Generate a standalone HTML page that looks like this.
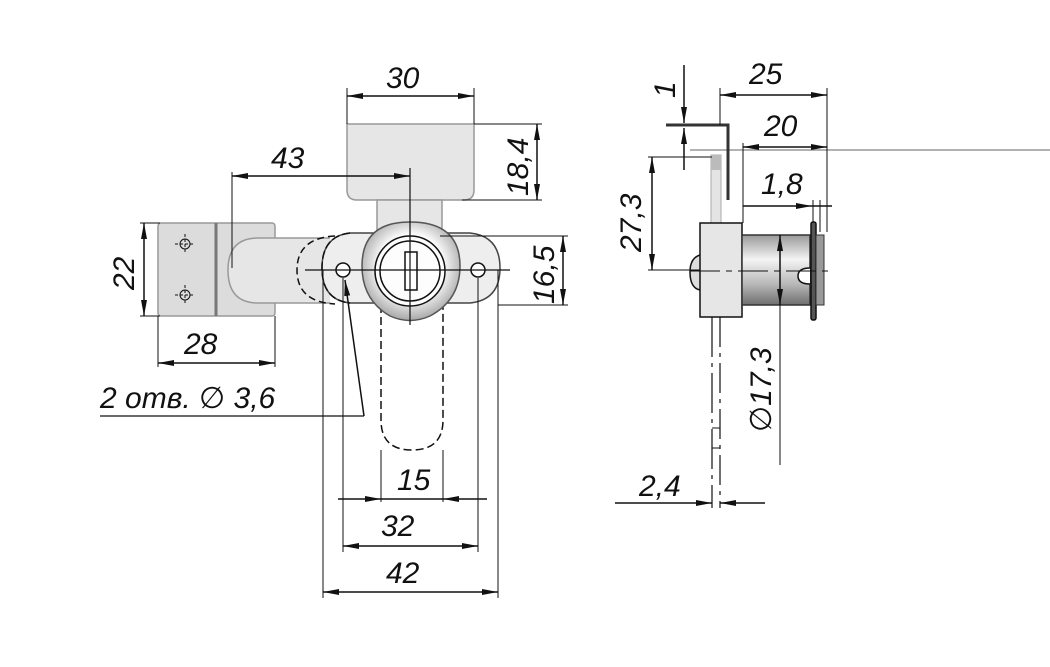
<!DOCTYPE html>
<html><head><meta charset="utf-8"><style>
html,body{margin:0;padding:0;background:#fff;}
svg{display:block;}
text{font-family:"Liberation Sans",sans-serif;font-style:italic;font-size:30px;fill:#111;}
</style></head><body>
<svg width="1050" height="667" viewBox="0 0 1050 667" xmlns="http://www.w3.org/2000/svg">
<defs>
<marker id="a" viewBox="0 0 16 8" refX="16" refY="4" markerWidth="16" markerHeight="8" orient="auto-start-reverse" markerUnits="userSpaceOnUse"><path d="M0,1 L16,4 L0,7 Z" fill="#111"/></marker>
<linearGradient id="cyl" x1="0" y1="0" x2="0" y2="1"><stop offset="0" stop-color="#9a9a9a"/><stop offset="0.35" stop-color="#f4f4f4"/><stop offset="0.7" stop-color="#b8b8b8"/><stop offset="1" stop-color="#6e6e6e"/></linearGradient>
<radialGradient id="ring" cx="0.5" cy="0.45" r="0.55"><stop offset="0.6" stop-color="#fafafa"/><stop offset="1" stop-color="#a8a8a8"/></radialGradient>
</defs>
<g stroke="#111" stroke-width="1.5" fill="none">
<path d="M347,124 L474,124 L474,190 Q474,200 464,200 L357,200 Q347,200 347,190 Z" fill="#e6e6e6" stroke="#999"/>
<rect x="377" y="200" width="65" height="30" fill="#e6e6e6" stroke="#999"/>
<rect x="158" y="223" width="117" height="93" rx="3" fill="#dcdcdc" stroke="#999"/>
<line x1="216" y1="223" x2="216" y2="316" stroke="#777" stroke-width="3"/>
<path d="M330,238 L258,238 Q228,238 228,270 Q228,303 258,303 L330,303" fill="#e6e6e6" stroke="#999"/>
<g stroke-width="1"><circle cx="185" cy="244" r="5"/><line x1="175" y1="244" x2="195" y2="244" stroke-dasharray="3,2"/><line x1="185" y1="234" x2="185" y2="254" stroke-dasharray="3,2"/>
<circle cx="185" cy="295" r="5"/><line x1="175" y1="295" x2="195" y2="295" stroke-dasharray="3,2"/><line x1="185" y1="285" x2="185" y2="305" stroke-dasharray="3,2"/></g>
<path d="M335,236 Q297,238 297,270 Q297,302 335,304" stroke-dasharray="7,4"/>
<path d="M350,233 L470,233 Q500,236 500,268 Q500,300 470,303 L350,303 Q322,300 322,268 Q322,236 350,233 Z" fill="#eeeeee" stroke="#444"/>
<path d="M350,233 Q322,236 322,268 Q322,300 350,303" stroke-dasharray="8,3" stroke="#111"/>
<circle cx="343" cy="270" r="7" fill="#fff"/><circle cx="478" cy="270" r="7" fill="#fff"/>
<path d="M381,305 L381,420 Q381,450 412,450 Q443,450 443,420 L443,305" stroke-dasharray="8,4"/>
<path d="M410,222 Q460,222 460,266 Q460,300 430,316 Q410,325 390,316 Q362,300 362,266 Q362,222 410,222 Z" fill="url(#ring)" stroke="#555"/>
<circle cx="410" cy="271" r="35" fill="#fdfdfd"/>
<circle cx="410" cy="271" r="30"/>
<rect x="405" y="252" width="12" height="38" fill="#fff"/>
<line x1="305" y1="270" x2="510" y2="270" stroke-width="1.2"/>
<line x1="410" y1="168" x2="410" y2="325" stroke-width="1.2"/>
<line x1="347" y1="88" x2="347" y2="124" stroke-width="1"/><line x1="474" y1="88" x2="474" y2="124" stroke-width="1"/>
<line x1="347" y1="96" x2="474" y2="96" marker-start="url(#a)" marker-end="url(#a)"/>
<line x1="474" y1="124" x2="542" y2="124" stroke-width="1"/><line x1="462" y1="200" x2="542" y2="200" stroke-width="1"/>
<line x1="537" y1="124" x2="537" y2="200" marker-start="url(#a)" marker-end="url(#a)"/>
<line x1="232" y1="176" x2="410" y2="176" marker-start="url(#a)" marker-end="url(#a)"/>
<line x1="232" y1="172" x2="232" y2="268" stroke-width="1"/>
<line x1="440" y1="236" x2="568" y2="236" stroke-width="1"/><line x1="498" y1="305" x2="568" y2="305" stroke-width="1"/>
<line x1="563" y1="236" x2="563" y2="305" marker-start="url(#a)" marker-end="url(#a)"/>
<line x1="140" y1="223" x2="160" y2="223" stroke-width="1"/><line x1="140" y1="316" x2="160" y2="316" stroke-width="1"/>
<line x1="144" y1="223" x2="144" y2="316" marker-start="url(#a)" marker-end="url(#a)"/>
<line x1="158" y1="316" x2="158" y2="367" stroke-width="1"/><line x1="275" y1="316" x2="275" y2="367" stroke-width="1"/>
<line x1="158" y1="363" x2="275" y2="363" marker-start="url(#a)" marker-end="url(#a)"/>
<line x1="100" y1="416" x2="364" y2="416" stroke-width="1.2"/>
<line x1="364" y1="416" x2="345" y2="280" marker-end="url(#a)"/>
<line x1="323" y1="270" x2="323" y2="598" stroke-width="1"/><line x1="498" y1="270" x2="498" y2="598" stroke-width="1"/>
<line x1="343" y1="278" x2="343" y2="552" stroke-width="1"/><line x1="478" y1="278" x2="478" y2="552" stroke-width="1"/>
<line x1="381" y1="450" x2="381" y2="502" stroke-width="1"/><line x1="443" y1="450" x2="443" y2="502" stroke-width="1"/>
<line x1="338" y1="499" x2="381" y2="499" marker-end="url(#a)"/><line x1="487" y1="499" x2="443" y2="499" marker-end="url(#a)"/>
<line x1="381" y1="499" x2="443" y2="499"/>
<line x1="343" y1="546" x2="478" y2="546" marker-start="url(#a)" marker-end="url(#a)"/>
<line x1="323" y1="592" x2="498" y2="592" marker-start="url(#a)" marker-end="url(#a)"/>

<line x1="690" y1="150" x2="1050" y2="150" stroke="#999" stroke-width="1.5"/>
<rect x="711" y="155" width="10" height="68" fill="#e4e4e4" stroke="#aaa" stroke-width="1"/>
<rect x="711" y="155" width="10" height="15" fill="#bbb" stroke="none"/>
<path d="M666,125 L728,125 L728,200" stroke-width="3" stroke="#333"/>
<path d="M700,255 Q690,258 690,272 Q690,288 700,290" fill="#ddd"/>
<rect x="700" y="223" width="42" height="94" fill="#e6e6e6"/>
<rect x="742" y="235" width="68" height="70" fill="url(#cyl)" stroke="#333"/>
<path d="M810,268 Q798,268 798,276 Q798,284 810,284" fill="#fff"/>
<rect x="811" y="222" width="5" height="98" rx="2" fill="#555"/>
<rect x="816" y="235" width="8" height="70" fill="#999" stroke="#333" stroke-width="1"/>
<line x1="690" y1="271" x2="830" y2="271" stroke-width="1" stroke-dasharray="30,6,6,6"/>
<line x1="684" y1="65" x2="684" y2="123" marker-end="url(#a)"/>
<line x1="684" y1="170" x2="684" y2="128" marker-end="url(#a)"/>
<line x1="720" y1="88" x2="720" y2="125" stroke-width="1"/><line x1="827" y1="88" x2="827" y2="232" stroke-width="1"/>
<line x1="720" y1="95" x2="827" y2="95" marker-start="url(#a)" marker-end="url(#a)"/>
<line x1="743" y1="143" x2="743" y2="223" stroke-width="1"/>
<line x1="743" y1="147" x2="827" y2="147" marker-start="url(#a)" marker-end="url(#a)"/>
<line x1="743" y1="206" x2="812" y2="206" marker-end="url(#a)"/>
<line x1="812" y1="206" x2="832" y2="206"/>
<line x1="813" y1="200" x2="813" y2="222" stroke-width="1"/><line x1="820" y1="200" x2="820" y2="232" stroke-width="1"/>
<line x1="648" y1="157" x2="712" y2="157" stroke-width="1"/><line x1="648" y1="270" x2="700" y2="270" stroke-width="1"/>
<line x1="652" y1="157" x2="652" y2="270" marker-start="url(#a)" marker-end="url(#a)"/>
<line x1="780" y1="235" x2="780" y2="305" marker-start="url(#a)" marker-end="url(#a)"/>
<line x1="780" y1="305" x2="780" y2="465" stroke-width="1"/>
<line x1="712" y1="317" x2="712" y2="508" stroke-width="1.2" stroke-dasharray="40,6,4,6"/>
<line x1="720" y1="317" x2="720" y2="508" stroke-width="1.2" stroke-dasharray="30,6,4,6"/>
<line x1="712" y1="428" x2="720" y2="428" stroke-width="1"/><line x1="712" y1="448" x2="720" y2="448" stroke-width="1"/>
<line x1="615" y1="503" x2="712" y2="503" marker-end="url(#a)"/>
<line x1="765" y1="503" x2="720" y2="503" marker-end="url(#a)"/>
</g>
<g>
<text x="386" y="88">30</text>
<text x="271" y="168">43</text>
<text transform="translate(528,196) rotate(-90)">18,4</text>
<text transform="translate(554,304) rotate(-90)">16,5</text>
<text transform="translate(134,290) rotate(-90)">22</text>
<text x="184" y="354">28</text>
<text x="100" y="408">2 отв. <tspan font-style="normal">∅</tspan> 3,6</text>
<text x="397" y="490">15</text>
<text x="381" y="536">32</text>
<text x="386" y="583">42</text>
<text transform="translate(675,98) rotate(-90)">1</text>
<text x="749" y="84">25</text>
<text x="764" y="136">20</text>
<text x="761" y="194">1,8</text>
<text transform="translate(641,252) rotate(-90)">27,3</text>
<text transform="translate(771,432) rotate(-90)"><tspan font-style="normal">∅</tspan>17,3</text>
<text x="639" y="496">2,4</text>
</g>
</svg>
</body></html>
